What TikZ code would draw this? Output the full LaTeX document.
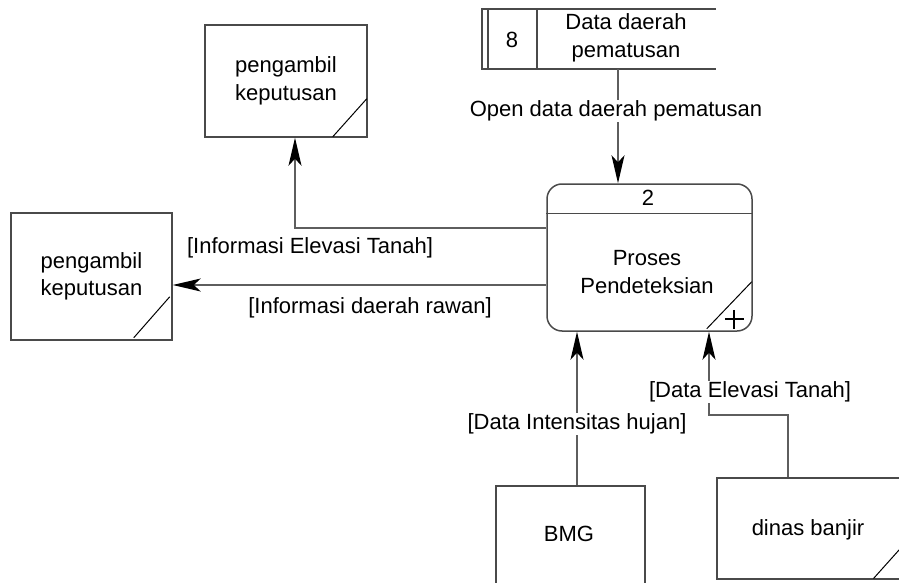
\documentclass[tikz,border=0pt]{standalone}
\usepackage{fontspec}
\setmainfont{Liberation Sans}
\usetikzlibrary{arrows.meta,calc}

\definecolor{boxline}{HTML}{4A4A4A}
\definecolor{flowline}{HTML}{5E5E5E}

\tikzset{
  every node/.style={font=\fontsize{22}{27.5}\selectfont, text=black},
  entity/.style={draw=boxline, line width=1.5pt, fill=white, align=center, inner sep=0pt},
  procbox/.style={draw=boxline, line width=1.5pt, rounded corners=15pt, inner sep=0pt},
  storeline/.style={draw=boxline, line width=1.4pt},
  corner/.style={draw=black, line width=1pt},
  flow/.style={draw=flowline, line width=1.3pt,
    -{Stealth[length=28pt, width=13pt, inset=7pt, fill=black, color=black]}},
  flowlabel/.style={fill=white, inner sep=1pt, align=center},
}

\begin{document}
\begin{tikzpicture}[x=1pt, y=-1pt]
  \useasboundingbox (0,0) rectangle (899,583);

  % data store 8
  \node[minimum width=235, minimum height=60, inner sep=0pt] (store) at (599,39) {};
  \draw[storeline] (716,9) -- (482,9) -- (482,69) -- (716,69);
  \draw[storeline] (488,9) -- (488,69);
  \draw[storeline] (537,9) -- (537,69);
  \node (storeno) at (512,40) {8};
  \node[align=center] (storename) at (626,38) {Data daerah\\pematusan};

  % process 2
  \node[procbox, minimum width=205, minimum height=147] (proc) at (649.5,257.5) {};
  \draw[boxline, line width=1.3pt] ($(proc.north west)+(0,30)$) -- ($(proc.north east)+(0,30)$);
  \node (procno) at (648,198) {2};
  \node[align=center] (procname) at (647,272) {Proses\\Pendeteksian};
  \draw[corner] ($(proc.south east)+(-46,-3)$) -- ($(proc.south east)+(-1,-50)$);
  \draw[black, line width=1.7pt] ($(proc.south east)+(-28,-12.5)$) -- ($(proc.south east)+(-9,-12.5)$);
  \draw[black, line width=1.7pt] ($(proc.south east)+(-18.5,-22)$) -- ($(proc.south east)+(-18.5,-3)$);

  % external entities
  \node[entity, minimum width=162, minimum height=112] (ent1) at (286,81) {pengambil\\keputusan};
  \draw[corner] ($(ent1.south east)+(-35,-1)$) -- ($(ent1.south east)+(-1,-39)$);

  \node[entity, minimum width=161, minimum height=127] (ent2) at (91.5,276.5) {pengambil\\keputusan};
  \draw[corner] ($(ent2.south east)+(-39,-3)$) -- ($(ent2.south east)+(-3,-44)$);

  \node[entity, minimum width=149, minimum height=130, anchor=north] (bmg) at (570.5,485) {};
  \node (bmgname) at (569,534) {BMG};

  \node[entity, minimum width=190, minimum height=101, anchor=north west] (dinas) at (716,477) {};
  \node (dinasname) at (808,530) {dinas banjir};
  \draw[corner] ($(dinas.south east)+(-34,-1)$) -- ($(dinas.south east)+(0,-39)$);

  % routing points
  \coordinate (a1) at (618,0);
  \coordinate (e1) at (295,228);
  \coordinate (e2) at (0,285);
  \coordinate (b1) at (577,0);
  \coordinate (d1) at (788,415);
  \coordinate (d2) at (709,415);

  % data flows
  \draw[flow] (store.south -| a1) -- (proc.north -| a1);
  \draw[flow] (proc.west |- e1) -| (ent1.south -| e1);
  \draw[flow] (proc.west |- e2) -- (ent2.east |- e2);
  \draw[flow] (bmg.north -| b1) -- (proc.south -| b1);
  \draw[flow] (dinas.north -| d1) -- (d1) -- (d2) -- (proc.south -| d2);

  % flow labels
  \node[flowlabel] (l1) at (616,111) {Open data daerah pematusan};
  \node[flowlabel] (l2) at (310,248) {[Informasi Elevasi Tanah]};
  \node[flowlabel] (l3) at (370,308) {[Informasi daerah rawan]};
  \node[flowlabel] (l4) at (577,424) {[Data Intensitas hujan]};
  \node[flowlabel] (l5) at (750,392) {[Data Elevasi Tanah]};
\end{tikzpicture}
\end{document}
